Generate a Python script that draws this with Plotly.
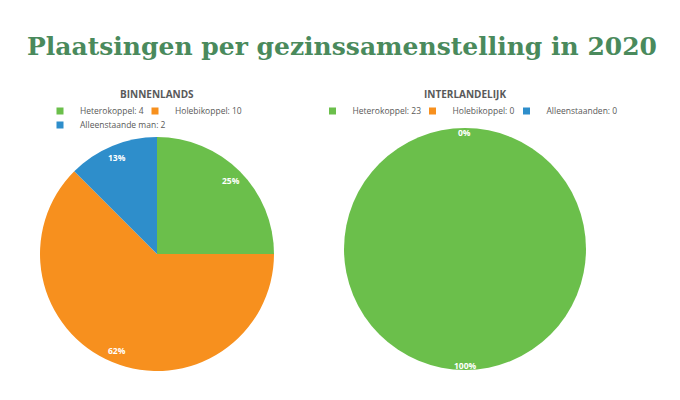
import math
import plotly.graph_objects as go

# The page body adds an 8px margin, so the figure is drawn 8px in from the
# window's top-left corner; size it to fit the 680x400 window.
WIN_W, WIN_H = 680, 400
OX, OY = 8, 8
W, H = WIN_W - OX, WIN_H - OY

# ---- data ----
chart_title = "Plaatsingen per gezinssamenstelling in 2020"

binnen_title = "BINNENLANDS"
binnen_labels = ["Heterokoppel", "Holebikoppel", "Alleenstaande man"]
binnen_values = [4, 10, 2]
binnen_pct_text = ["25%", "62%", "13%"]

inter_title = "INTERLANDELIJK"
inter_labels = ["Heterokoppel", "Holebikoppel", "Alleenstaanden"]
inter_values = [23, 0, 0]
inter_pct_text = ["100%", "0%", "0%"]

colors = ["#6bbf4b", "#f7901e", "#2e8ecb"]


def px(x):
    """window x pixel -> paper fraction"""
    return (x - OX) / W


def py(y):
    """window y pixel (from top) -> paper fraction"""
    return 1 - (y - OY) / H


# ---- layout geometry (window pixels) ----
left_pie = dict(cx=157, cy=254, r=117, lab_frac=0.89)
right_pie = dict(cx=465, cy=249, r=121, lab_frac=0.96)


def domain(p):
    return dict(x=[px(p["cx"] - p["r"]), px(p["cx"] + p["r"])],
                y=[py(p["cy"] + p["r"]), py(p["cy"] - p["r"])])


fig = go.Figure()

fig.add_trace(go.Pie(
    labels=binnen_labels, values=binnen_values, domain=domain(left_pie),
    marker=dict(colors=colors, line=dict(width=0)), sort=False,
    direction="clockwise", rotation=0, textinfo="none", showlegend=False,
    hoverinfo="label+value+percent", name=binnen_title))

fig.add_trace(go.Pie(
    labels=inter_labels, values=inter_values, domain=domain(right_pie),
    marker=dict(colors=colors, line=dict(width=0)), sort=False,
    direction="clockwise", rotation=0, textinfo="none", showlegend=False,
    hoverinfo="label+value+percent", name=inter_title))

# ---- legends: one legend per entry so spacing can follow the reference ----
legend_font = dict(family="Open Sans", size=8.5, color="#595959")
legend_items = [
    # (label, value, color, text-start x, row y) in window pixels
    (binnen_labels[0], binnen_values[0], colors[0], 80, 111),
    (binnen_labels[1], binnen_values[1], colors[1], 175, 111),
    (binnen_labels[2], binnen_values[2], colors[2], 80, 125),
    (inter_labels[0], inter_values[0], colors[0], 352.5, 111),
    (inter_labels[1], inter_values[1], colors[1], 452.5, 111),
    (inter_labels[2], inter_values[2], colors[2], 546.5, 111),
]
legend_layout = {}
for i, (lab, val, col, tx, ty) in enumerate(legend_items):
    key = "legend" if i == 0 else f"legend{i + 1}"
    fig.add_trace(go.Scatter(
        x=[None], y=[None], mode="markers", name=f"{lab}: {val}",
        marker=dict(symbol="square", size=7, color=col),
        legend=key, showlegend=True, hoverinfo="skip"))
    legend_layout[key] = dict(
        x=px(tx - 40), y=py(ty), xanchor="left", yanchor="middle",
        orientation="h", font=legend_font, bgcolor="rgba(0,0,0,0)",
        borderwidth=0, itemwidth=30, itemclick=False, itemdoubleclick=False)

# ---- percentage labels, placed along each slice's mid-angle ----
annotations = []
for p, vals, texts in [(left_pie, binnen_values, binnen_pct_text),
                       (right_pie, inter_values, inter_pct_text)]:
    total = sum(vals)
    cum = 0
    seen = set()
    for v, t in zip(vals, texts):
        mid = (cum + v / 2) / total * 2 * math.pi
        cum += v
        x = p["cx"] + p["lab_frac"] * p["r"] * math.sin(mid)
        y = p["cy"] - p["lab_frac"] * p["r"] * math.cos(mid)
        k = (round(x), round(y), t)
        if k in seen:
            continue
        seen.add(k)
        annotations.append(dict(
            x=px(x), y=py(y), xref="paper", yref="paper", xanchor="center",
            yanchor="middle", text=f"<b>{t}</b>", showarrow=False,
            font=dict(family="Open Sans", size=8.5, color="white")))

for p, t in [(left_pie, binnen_title), (right_pie, inter_title)]:
    annotations.append(dict(
        x=px(p["cx"]), y=py(94), xref="paper", yref="paper", xanchor="center",
        yanchor="middle", text=f"<b>{t}</b>", showarrow=False,
        font=dict(family="Open Sans", size=10, color="#595959")))

fig.update_layout(
    width=W, height=H,
    margin=dict(l=0, r=0, t=0, b=0),
    paper_bgcolor="white", plot_bgcolor="white",
    title=dict(text=f"<b>{chart_title}</b>", x=px(342), xanchor="center",
               y=py(46), yanchor="middle",
               font=dict(family="DejaVu Serif", size=25, color="#4a8a5c")),
    xaxis=dict(visible=False), yaxis=dict(visible=False),
    annotations=annotations,
    **legend_layout,
)

fig.write_html("out.html")
